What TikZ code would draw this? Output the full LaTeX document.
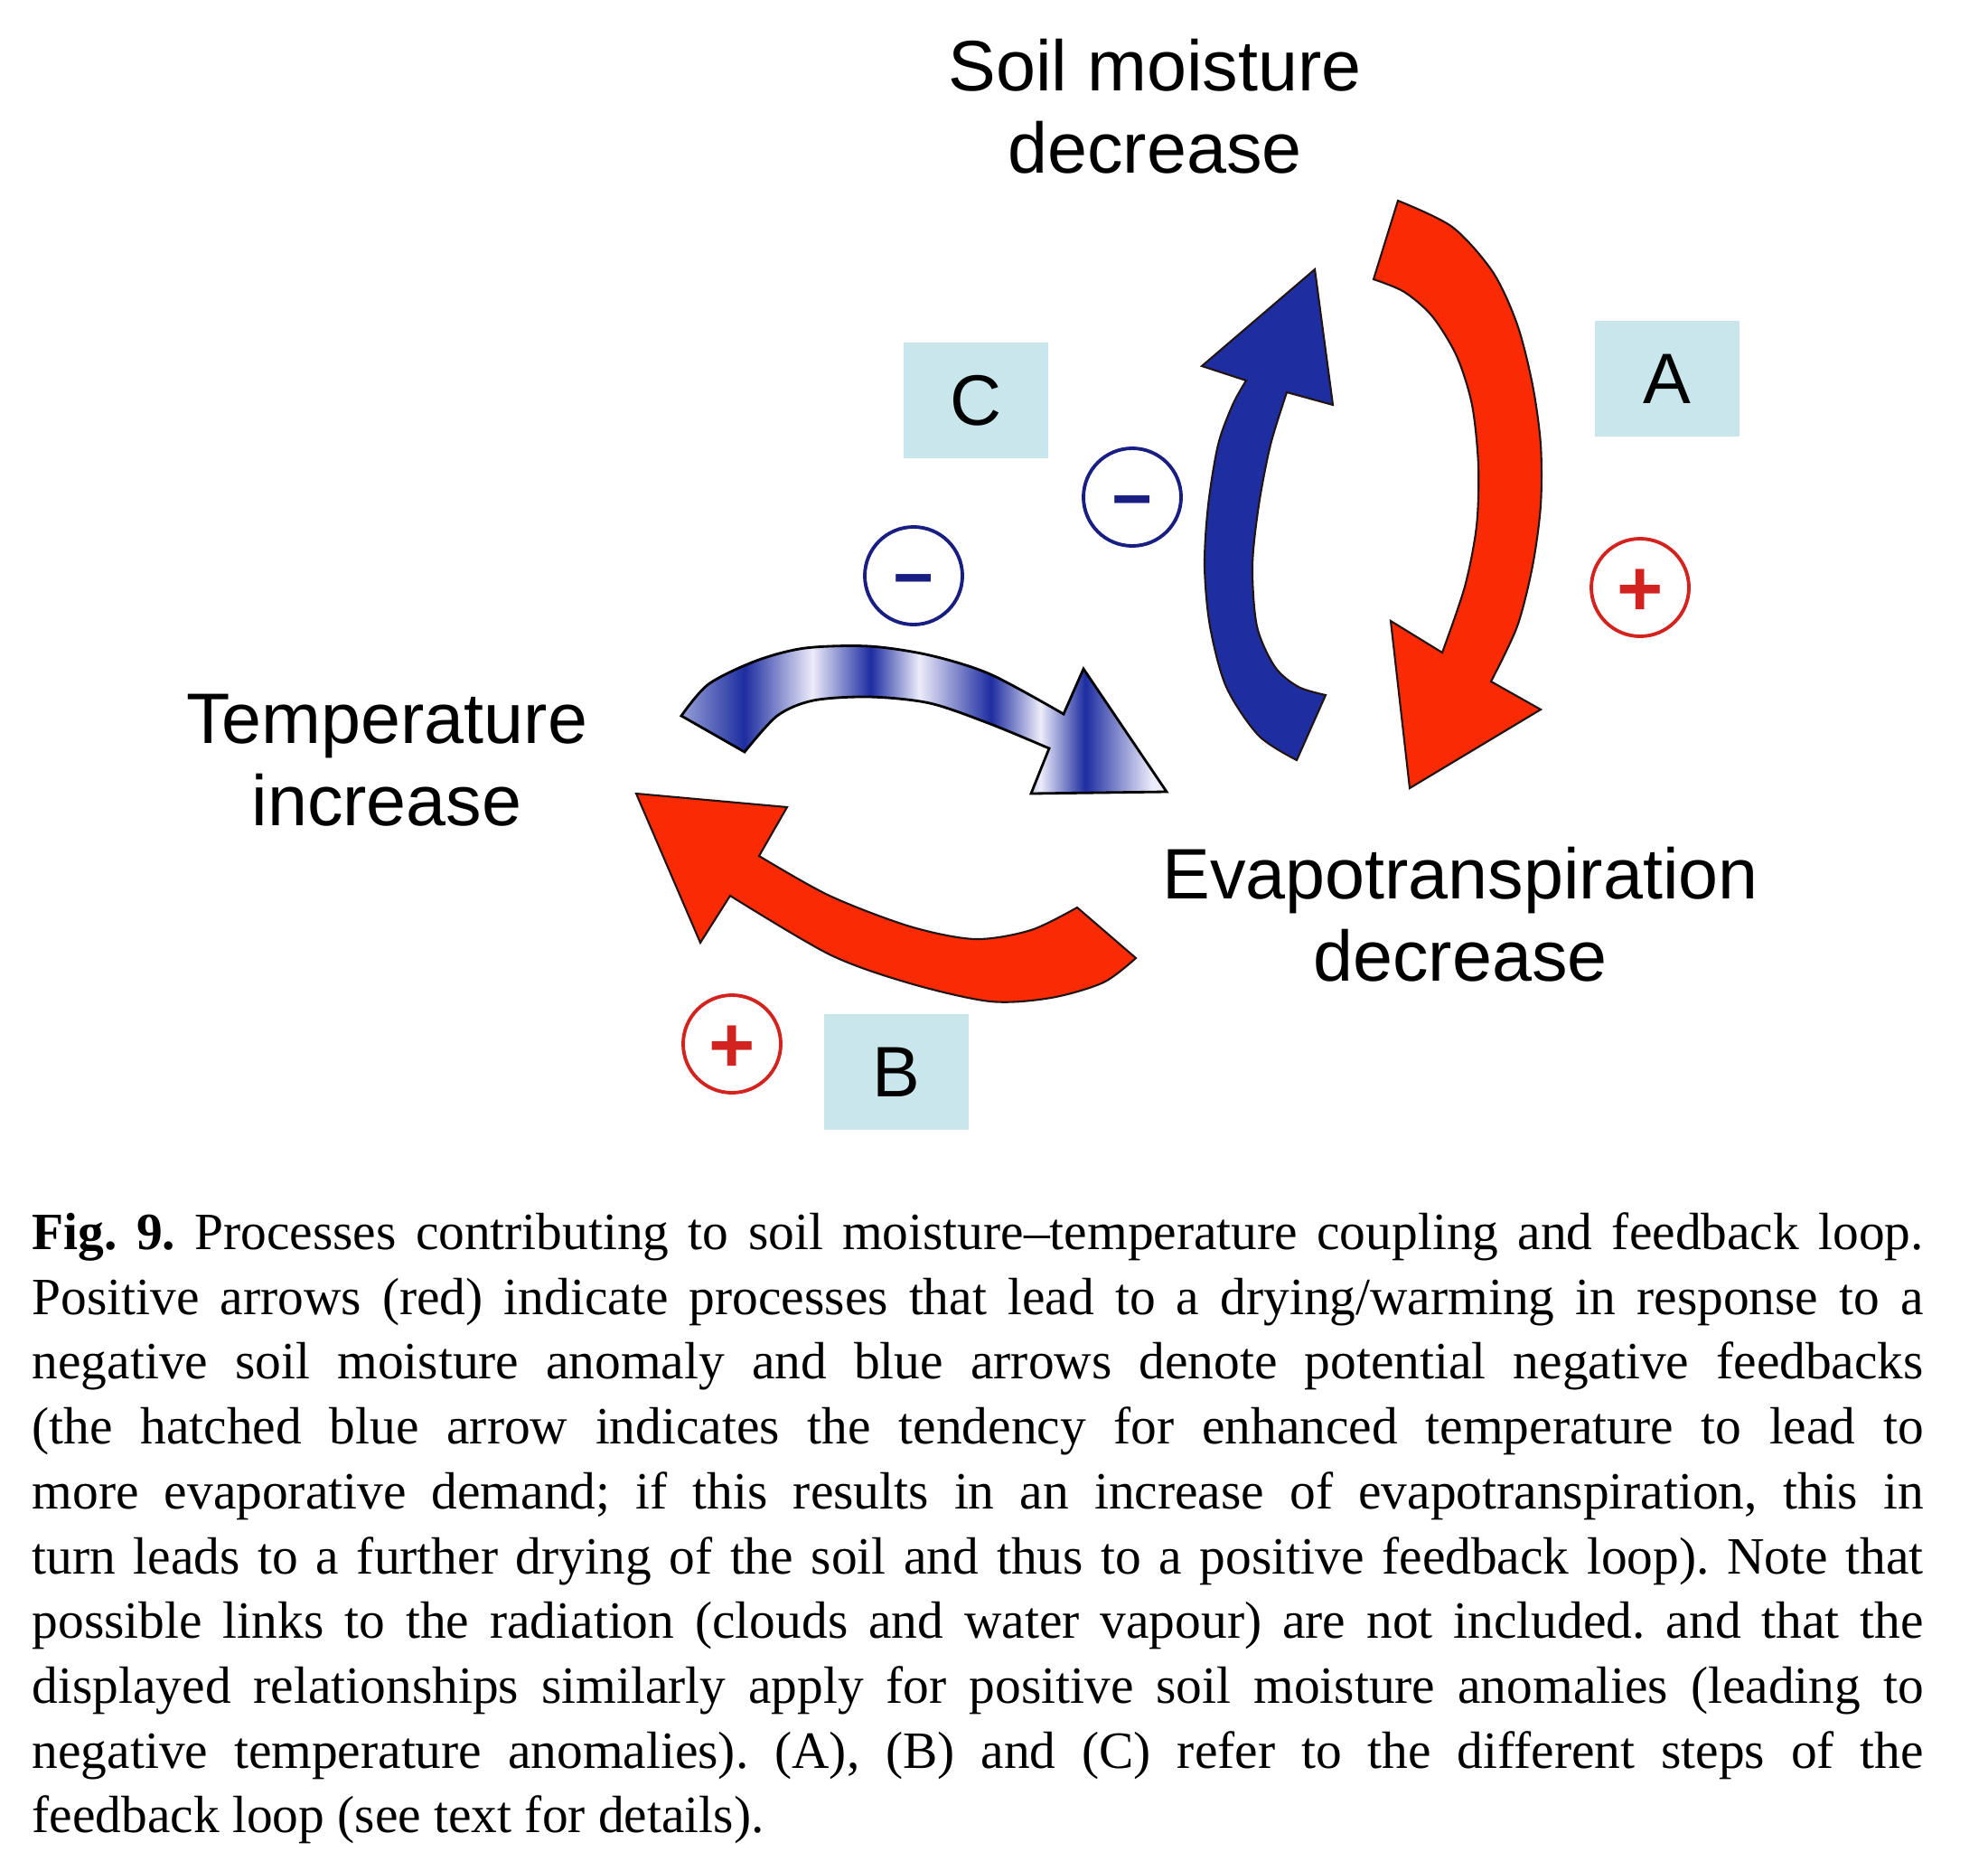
\documentclass[tikz,border=0pt]{standalone}
\usepackage{fontspec}
\setmainfont{Liberation Serif}
\newfontfamily\labelfont{Liberation Sans}
\newfontfamily\capfont[FakeStretch=0.99]{Liberation Serif}
\usepackage{xcolor}
\usepackage{tikz}
\usetikzlibrary{positioning}
\definecolor{myred}{RGB}{250,42,5}
\definecolor{myblue}{RGB}{30,45,160}
\definecolor{mynavy}{RGB}{25,30,130}
\definecolor{circred}{RGB}{210,35,30}
\definecolor{boxcyan}{RGB}{200,230,235}
\definecolor{hlight}{RGB}{236,236,250}
\definecolor{hmid}{RGB}{150,160,215}
\definecolor{myoutline}{RGB}{35,20,20}
\pgfdeclarehorizontalshading{hatchblue}{100bp}{color(0bp)=(hmid); color(25bp)=(hmid); color(31.5bp)=(myblue); color(38.5bp)=(hlight); color(44.5bp)=(myblue); color(49.5bp)=(hlight); color(56.9bp)=(myblue); color(62bp)=(hlight); color(66.6bp)=(myblue); color(73.5bp)=(hlight); color(100bp)=(hlight)}
\newcommand{\capline}[1]{\makebox[20.93cm][s]{#1}}
\tikzset{
  label/.style={align=center, inner sep=0pt, font=\labelfont\fontsize{22.5}{26}\selectfont},
  stepbox/.style={rectangle, fill=boxcyan, minimum width=1.6cm, minimum height=1.28cm, inner sep=0pt, font=\labelfont\fontsize{22.5}{26}\selectfont},
  minuscirc/.style={circle, draw=mynavy, line width=1.1pt, minimum size=1.08cm, inner sep=0pt, text=mynavy, text height=16.2pt, text depth=0pt, font=\labelfont\bfseries\fontsize{22}{22}\selectfont},
  pluscirc/.style={circle, draw=circred, line width=1.1pt, minimum size=1.08cm, inner sep=0pt, text=circred, text height=17.8pt, text depth=0pt, font=\labelfont\bfseries\fontsize{25}{25}\selectfont},
  redarrow/.style={fill=myred, draw=myoutline, line width=0.6pt, line join=miter},
  bluearrow/.style={fill=myblue, draw=myoutline, line width=0.6pt, line join=miter},
  hatcharrow/.style={shading=hatchblue, draw=black, line width=0.8pt, line join=miter}
}
\begin{document}
\begin{tikzpicture}
  \useasboundingbox (0,0) rectangle (22,-20.58);

  % Labels of the three quantities
  \node[label] (soil) at (12.78,-1.18) {Soil moisture\\decrease};
  \node[label] (temp) at (4.28,-8.41) {Temperature\\increase};
  \node[label] (evap) at (16.16,-10.12) {Evapotranspiration\\decrease};

  % Step boxes
  \node[stepbox] (bA) at (18.45,-4.19) {A};
  \node[stepbox] (bB) at (9.92,-11.86) {B};
  \node[stepbox] (bC) at (10.80,-4.43) {C};

  % Signs
  \node[pluscirc] (pA) at (18.15,-6.50) {+};
  \node[pluscirc] (pB) at (8.10,-11.55) {+};
  \node[minuscirc] (mC) at (10.11,-6.37) {−};
  \node[minuscirc] (mS) at (12.53,-5.50) {−};

  % A: soil moisture -> evapotranspiration (red)
  \filldraw[redarrow] plot[smooth] coordinates {(15.47,-2.22) (16.07,-2.51) (16.52,-3.01) (16.79,-3.59) (16.96,-4.26) (17.05,-4.92) (17.05,-5.59) (16.96,-6.26) (16.79,-6.93) (16.50,-7.54)}
    -- (17.05,-7.85) -- (15.60,-8.72) -- (15.39,-6.87)
    -- plot[smooth] coordinates {(15.96,-7.22) (16.21,-6.49) (16.34,-5.82) (16.36,-5.15) (16.29,-4.48) (16.12,-3.94) (15.85,-3.50) (15.54,-3.23) (15.20,-3.09)}
    -- cycle;

  % negative feedback back to soil moisture (blue)
  \filldraw[bluearrow] plot[smooth] coordinates {(14.35,-8.41) (13.93,-8.14) (13.57,-7.60) (13.39,-6.93) (13.33,-6.26) (13.37,-5.59) (13.48,-4.92) (13.64,-4.48) (13.79,-4.21)}
    -- (13.30,-4.05) -- (14.55,-2.98) -- (14.75,-4.48)
    -- plot[smooth] coordinates {(14.24,-4.34) (14.06,-4.92) (13.93,-5.59) (13.86,-6.26) (13.91,-6.93) (14.11,-7.38) (14.37,-7.60) (14.67,-7.69)}
    -- cycle;

  % C: temperature -> evaporative demand (hatched blue)
  \shadedraw[hatcharrow] plot[smooth] coordinates {(7.54,-7.92) (7.84,-7.57) (8.37,-7.31) (8.91,-7.17) (9.62,-7.15) (10.29,-7.25) (10.96,-7.46) (11.77,-7.90)}
    -- (11.99,-7.40) -- (12.91,-8.76) -- (11.41,-8.78)
    -- plot[smooth] coordinates {(11.61,-8.28) (10.96,-8.01) (10.29,-7.78) (9.62,-7.71) (9.00,-7.75) (8.60,-7.92) (8.24,-8.32)}
    -- cycle;

  % B: evapotranspiration -> temperature (red)
  \filldraw[redarrow] plot[smooth] coordinates {(12.57,-10.60) (12.21,-10.87) (11.63,-11.04) (10.96,-11.08) (10.07,-10.88) (9.18,-10.56) (8.08,-9.91)}
    -- (7.75,-10.43) -- (7.04,-8.78) -- (8.71,-8.93)
    -- plot[smooth] coordinates {(8.40,-9.47) (9.18,-9.91) (10.07,-10.25) (10.79,-10.39) (11.41,-10.29) (11.92,-10.04)}
    -- cycle;

  % Caption
  \node[anchor=north west, inner sep=0pt, align=left, font=\capfont\frenchspacing\fontsize{16.5}{20.4}\selectfont] (cap) at (0.35,-13.41) {%
    \capline{\textbf{Fig. 9.} Processes contributing to soil moisture–temperature coupling and feedback loop.}\\
    \capline{Positive arrows (red) indicate processes that lead to a drying/warming in response to a}\\
    \capline{negative soil moisture anomaly and blue arrows denote potential negative feedbacks}\\
    \capline{(the hatched blue arrow indicates the tendency for enhanced temperature to lead to}\\
    \capline{more evaporative demand; if this results in an increase of evapotranspiration, this in}\\
    \capline{turn leads to a further drying of the soil and thus to a positive feedback loop). Note that}\\
    \capline{possible links to the radiation (clouds and water vapour) are not included. and that the}\\
    \capline{displayed relationships similarly apply for positive soil moisture anomalies (leading to}\\
    \capline{negative temperature anomalies). (A), (B) and (C) refer to the different steps of the}\\
    feedback loop (see text for details).};
\end{tikzpicture}
\end{document}
